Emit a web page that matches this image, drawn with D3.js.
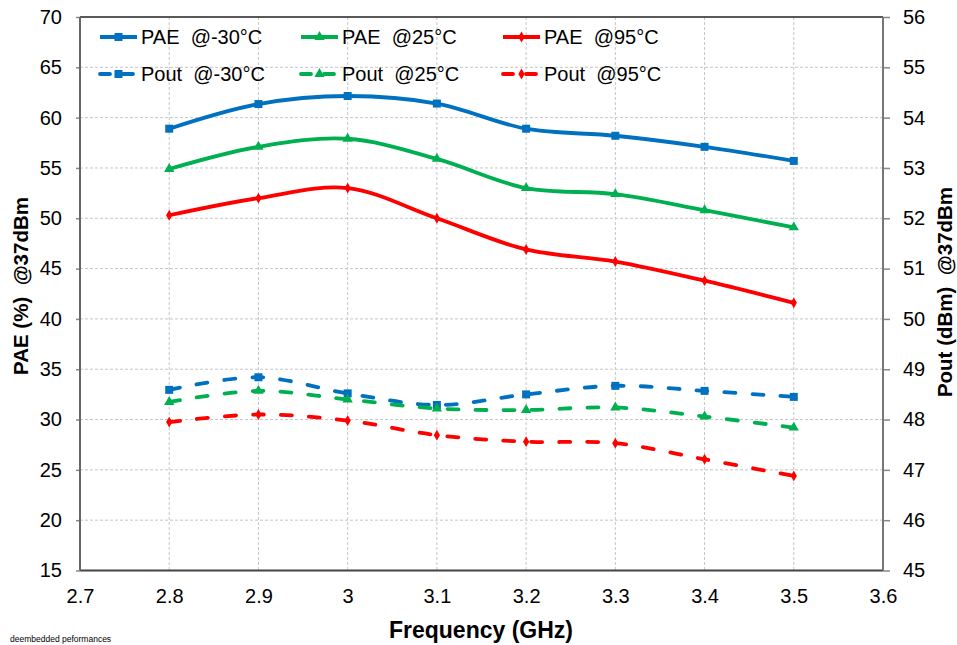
<!DOCTYPE html>
<html><head><meta charset="utf-8">
<script src="https://cdn.jsdelivr.net/npm/d3@7"></script>
<style>
body{margin:0;background:#fff;}
svg{font-family:"Liberation Sans",Arial,sans-serif;}
</style></head>
<body><svg id="chart" width="957" height="645"></svg>
<script>
const freqs = [2.8, 2.9, 3.0, 3.1, 3.2, 3.3, 3.4, 3.5];
const paeM30 = [58.9, 61.35, 62.15, 61.4, 58.9, 58.2, 57.1, 55.7];
const pae25  = [54.9, 57.1, 57.9, 55.9, 53.0, 52.4, 50.8, 49.1];
const pae95  = [50.3, 52.0, 53.0, 50.0, 46.9, 45.7, 43.8, 41.6];
const poutM30 = [48.59, 48.84, 48.52, 48.29, 48.50, 48.67, 48.57, 48.45];
const pout25  = [48.35, 48.57, 48.40, 48.22, 48.19, 48.24, 48.06, 47.84];
const pout95  = [47.95, 48.10, 47.98, 47.69, 47.56, 47.53, 47.21, 46.88];
const xTicks = [2.7, 2.8, 2.9, 3.0, 3.1, 3.2, 3.3, 3.4, 3.5, 3.6];
const xTickLabels = ["2.7","2.8","2.9","3","3.1","3.2","3.3","3.4","3.5","3.6"];
const leftTicks = [15,20,25,30,35,40,45,50,55,60,65,70];
const rightTicks = [45,46,47,48,49,50,51,52,53,54,55,56];

const series = [
  {name:"PAE  @-30°C", vals:paeM30, axis:"L", color:"#0070C0", marker:"square", dash:false},
  {name:"PAE  @25°C", vals:pae25, axis:"L", color:"#00B050", marker:"triangle", dash:false},
  {name:"PAE  @95°C", vals:pae95, axis:"L", color:"#FF0000", marker:"diamond", dash:false},
  {name:"Pout  @-30°C", vals:poutM30, axis:"R", color:"#0070C0", marker:"square", dash:true},
  {name:"Pout  @25°C", vals:pout25, axis:"R", color:"#00B050", marker:"triangle", dash:true},
  {name:"Pout  @95°C", vals:pout95, axis:"R", color:"#FF0000", marker:"diamond", dash:true}
];

const svg = d3.select("#chart");
const L = 80, T = 17, R = 883, B = 570.5;
const x = d3.scaleLinear().domain([2.7, 3.6]).range([L, R]);
const yL = d3.scaleLinear().domain([15, 70]).range([B, T]);
const yR = d3.scaleLinear().domain([45, 56]).range([B, T]);

// gridlines
const grid = svg.append("g");
grid.selectAll("line.h").data(leftTicks.slice(1, -1)).join("line")
  .attr("x1", L).attr("x2", R).attr("y1", d => yL(d)).attr("y2", d => yL(d))
  .attr("stroke", "#c6c6c6").attr("stroke-width", 1).attr("stroke-dasharray", "3,2");
grid.selectAll("line.v").data(xTicks.slice(1, -1)).join("line")
  .attr("y1", T).attr("y2", B).attr("x1", d => x(d)).attr("x2", d => x(d))
  .attr("stroke", "#c6c6c6").attr("stroke-width", 1).attr("stroke-dasharray", "3,2");

// axes
const axL = svg.append("g").attr("transform", `translate(${L},0)`)
  .call(d3.axisLeft(yL).tickValues(leftTicks).tickSize(4).tickPadding(14).tickFormat(d3.format("d")));
const axR = svg.append("g").attr("transform", `translate(${R},0)`)
  .call(d3.axisRight(yR).tickValues(rightTicks).tickSize(7).tickPadding(13).tickFormat(d3.format("d")));
const axB = svg.append("g").attr("transform", `translate(0,${B})`)
  .call(d3.axisBottom(x).tickValues(xTicks).tickSize(0).tickPadding(18).tickFormat((d, i) => xTickLabels[i]));
[axL, axR, axB].forEach(a => {
  a.select(".domain").remove();
  a.selectAll("text").attr("font-size", 20).attr("fill", "#000").attr("font-family", "Liberation Sans, Arial, sans-serif");
  a.selectAll("line").attr("stroke", "#888").attr("stroke-width", 1.5);
});
axB.selectAll("text").attr("dy", "0.71em");

// frame
svg.append("line").attr("x1", L).attr("x2", R).attr("y1", T).attr("y2", T).attr("stroke", "#222").attr("stroke-width", 1.5);
svg.append("line").attr("x1", L).attr("x2", R).attr("y1", B).attr("y2", B).attr("stroke", "#444").attr("stroke-width", 2);
svg.append("line").attr("x1", L).attr("x2", L).attr("y1", T).attr("y2", B).attr("stroke", "#666").attr("stroke-width", 2);
svg.append("line").attr("x1", R).attr("x2", R).attr("y1", T).attr("y2", B).attr("stroke", "#777").attr("stroke-width", 2);

function markerPath(type) {
  if (type === "square") return d3.symbol().type(d3.symbolSquare).size(64)();
  if (type === "triangle") return d3.symbol().type(d3.symbolTriangle).size(46)();
  return d3.symbol().type(d3.symbolDiamond).size(34)();
}

const plot = svg.append("g");
series.forEach(s => {
  const ys = s.axis === "L" ? yL : yR;
  const line = d3.line().x((d, i) => x(freqs[i])).y(d => ys(d)).curve(d3.curveCatmullRom.alpha(0.5));
  plot.append("path").datum(s.vals).attr("d", line)
    .attr("fill", "none").attr("stroke", s.color).attr("stroke-width", 3.8)
    .attr("stroke-linecap", s.dash ? "round" : "butt")
    .attr("stroke-dasharray", s.dash ? "11,17" : null);
  plot.selectAll(null).data(s.vals).join("path")
    .attr("d", markerPath(s.marker))
    .attr("transform", (d, i) => `translate(${x(freqs[i])},${ys(d)})`)
    .attr("fill", s.color);
});

// legend
const legCols = [100, 301, 503];
const legRows = [37, 74];
series.forEach((s, i) => {
  const col = i % 3, row = Math.floor(i / 3);
  const g = svg.append("g").attr("transform", `translate(${legCols[col]},${legRows[row]})`);
  g.append("line").attr("x1", 0).attr("x2", 37).attr("y1", 0).attr("y2", 0)
    .attr("stroke", s.color).attr("stroke-width", 3.8)
    .attr("stroke-linecap", s.dash ? "round" : "butt")
    .attr("stroke-dasharray", s.dash ? "10,13" : null);
  g.append("path").attr("d", markerPath(s.marker)).attr("transform", "translate(18.5,0)").attr("fill", s.color);
  g.append("text").attr("x", 41).attr("y", 0).attr("dy", "0.35em")
    .attr("font-size", 20).attr("fill", "#000").style("white-space", "pre").text(s.name);
});

// axis titles
svg.append("text").attr("x", 481).attr("y", 638).attr("text-anchor", "middle")
  .attr("font-size", 23).attr("font-weight", "bold").text("Frequency (GHz)");
svg.append("text").attr("transform", "translate(28,286) rotate(-90)").attr("text-anchor", "middle")
  .attr("font-size", 20.5).attr("font-weight", "bold").style("white-space", "pre").text("PAE (%)  @37dBm");
svg.append("text").attr("transform", "translate(952,292) rotate(-90)").attr("text-anchor", "middle")
  .attr("font-size", 20.5).attr("font-weight", "bold").style("white-space", "pre").text("Pout (dBm)  @37dBm");
svg.append("text").attr("x", 10).attr("y", 642).attr("font-size", 8.5).attr("fill", "#000").text("deembedded peformances");
</script>
</body></html>
